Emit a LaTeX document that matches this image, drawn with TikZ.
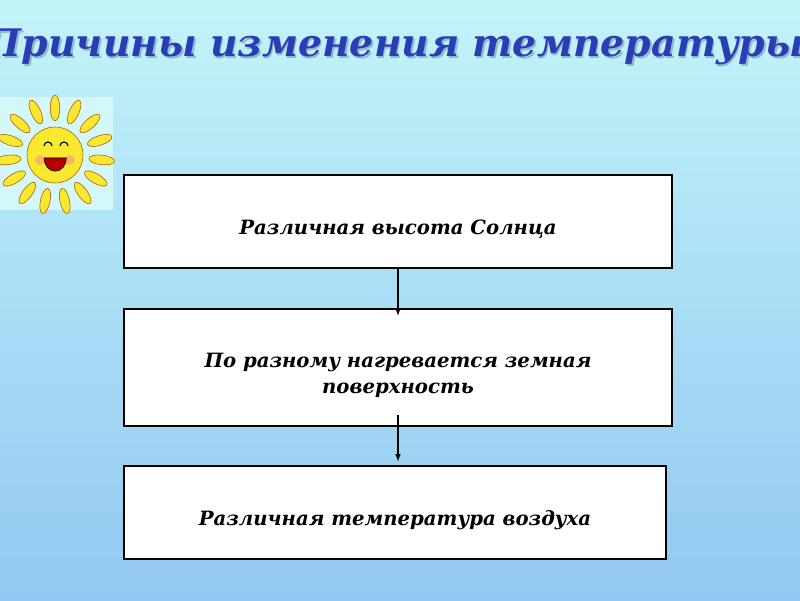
\documentclass[tikz,border=0pt]{standalone}
\usepackage{fontspec}
\setmainfont{DejaVu Serif}
\usepackage{tikz}
\usetikzlibrary{positioning}
\definecolor{skytop}{HTML}{C2F4F8}
\definecolor{skybot}{HTML}{92C8F2}
\definecolor{titleblue}{HTML}{2B3DB4}
\definecolor{sunyel}{HTML}{F8E830}
\newcommand{\causetext}[1]{\raisebox{-0.2cm}[\height][\depth]{\begin{tabular}{@{}c@{}}#1\end{tabular}}}
\tikzset{
  causebox/.style={draw=black, thick, fill=white, minimum height=2.325cm, align=center,
    font=\fontsize{14}{18}\selectfont\bfseries\itshape},
  causearrow/.style={-latex, thick}
}
\begin{document}
\begin{tikzpicture}
    \useasboundingbox (0,0) rectangle (20,15);
    \clip (0,0) rectangle (20,15);
    % Background
    \shade[top color=skytop, bottom color=skybot] (0,0) rectangle (20,15);

    % Title
    \node[text=titleblue!40!black, opacity=0.25] at (9.92,13.77) {\fontsize{27}{32}\selectfont\bfseries\itshape Причины изменения температуры};
    \node[text=titleblue] (title) at (9.875,13.82) {\fontsize{27}{32}\selectfont\bfseries\itshape Причины изменения температуры};

    % Sun
    \fill[skytop!70!white] (0,9.75) rectangle (2.825,12.575);
    \foreach \a in {0,24,...,359} {
      \fill[sunyel, draw=orange!70!black, thin, rotate around={\a:(1.375,11.125)}]
        (1.375,12.3) ellipse (0.12 and 0.32);
    }
    \filldraw[fill=sunyel, draw=orange!70!black] (1.375,11.125) circle (0.7);
    \fill[orange!60] (1.0,11.0) circle (0.12) (1.75,11.0) circle (0.12);
    \draw[thick] (1.1,11.35) arc (180:0:0.1) (1.5,11.35) arc (180:0:0.1);
    \filldraw[fill=red!70!black, draw=black] (1.1,11.05) arc (180:360:0.28 and 0.33) -- cycle;

    % Boxes
    \node[causebox, minimum width=13.7cm] (height) at (9.95,9.4625) {\causetext{Различная высота Солнца}};
    \node[causebox, minimum width=13.7cm, minimum height=2.925cm] (surface) at (9.95,5.8125)
      {\causetext{По разному нагревается земная\\поверхность}};
    \node[causebox, minimum width=13.55cm] (air) at (9.875,2.1875) {\causetext{Различная температура воздуха}};

    % Arrows
    \draw[causearrow] (height.south) -- ([yshift=-0.18cm]surface.north);
    \draw[causearrow] ([yshift=0.3cm]surface.south) -- ([yshift=0.1cm]air.north -| surface.south);
\end{tikzpicture}
\end{document}
